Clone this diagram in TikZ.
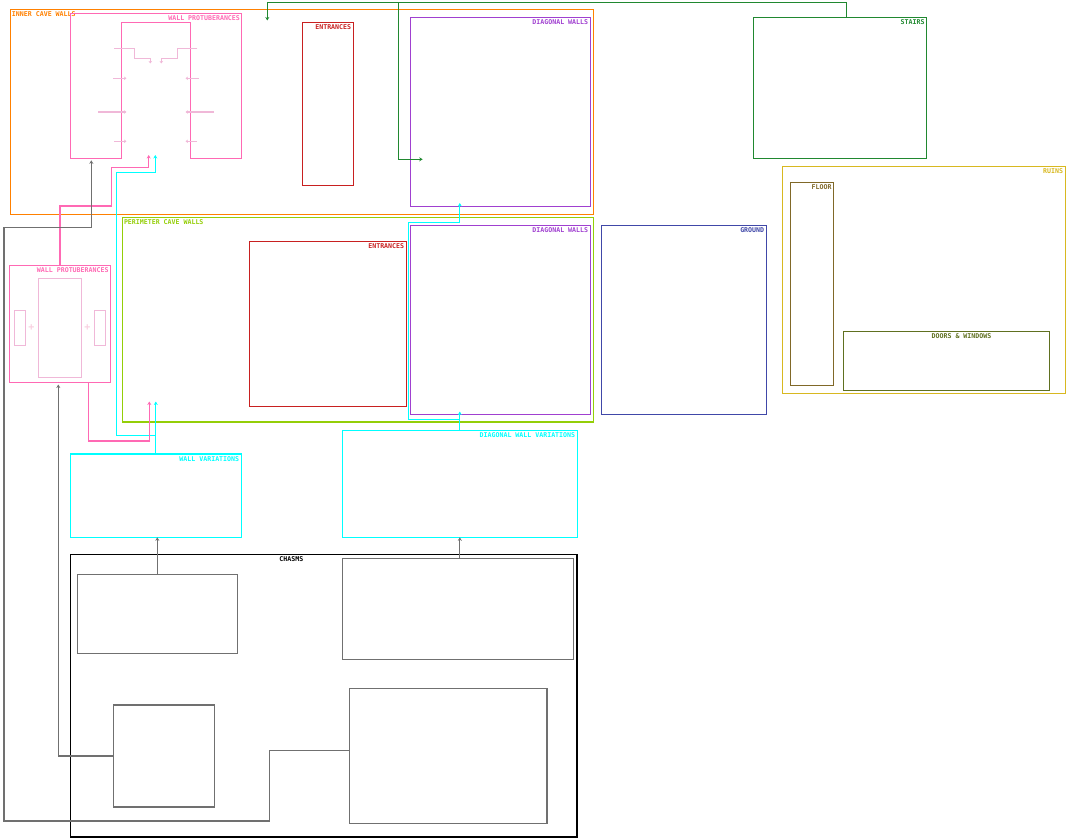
\documentclass[tikz,border=0pt]{standalone}
\usepackage{fontspec}
\setmonofont{DejaVu Sans Mono}
\usepackage{tikz}
\usetikzlibrary{
    arrows.meta,
    positioning,
    calc
}
\usepackage{xcolor}
\definecolor{cavewall}{RGB}{255,128,0}
\definecolor{protpink}{RGB}{255,105,180}
\definecolor{protlight}{RGB}{240,184,216}
\definecolor{protpale}{RGB}{248,208,224}
\definecolor{entrred}{RGB}{200,32,32}
\definecolor{diagpurple}{RGB}{160,64,208}
\definecolor{perimgreen}{RGB}{148,206,8}
\definecolor{varcyan}{RGB}{0,255,255}
\definecolor{stairgreen}{RGB}{32,136,48}
\definecolor{groundblue}{RGB}{64,72,168}
\definecolor{ruinyellow}{RGB}{216,184,32}
\definecolor{floorbrown}{RGB}{128,104,40}
\definecolor{doorolive}{RGB}{96,112,32}
\definecolor{linkgray}{RGB}{112,112,112}
\tikzset{
    % Regions
    region/.style={
        rectangle,
        draw,
        line width=1.3pt,
        inner sep=0pt,
        outer sep=0pt,
        anchor=north west
    },
    chasmregion/.style={
        region,
        draw=black,
        line width=1.6pt
    },
    subregion/.style={
        region,
        draw=linkgray
    },
    % Labels
    tagright/.style={
        anchor=north east,
        inner sep=0pt,
        xshift=-2pt,
        yshift=-2pt
    },
    tagleft/.style={
        anchor=north west,
        inner sep=0pt,
        xshift=1.5pt,
        yshift=-2pt
    },
    tagtop/.style={
        anchor=north,
        inner sep=0pt,
        yshift=-2pt
    },
    % Connectors
    link/.style={
        -{Stealth[length=3.5pt,width=4pt]},
        line width=1.3pt
    },
    graylink/.style={link, draw=linkgray},
    pinklink/.style={link, draw=protpink},
    cyanlink/.style={link, draw=varcyan},
    greenlink/.style={link, draw=stairgreen},
    % Details
    detail/.style={
        draw=protlight,
        line width=1.2pt
    },
    detailarrow/.style={
        detail,
        -{Stealth[length=2.5pt,width=3.5pt]}
    },
    plus/.style={
        inner sep=0pt,
        text=protpale,
        font=\ttfamily\bfseries\fontsize{10}{10}\selectfont
    }
}

\begin{document}
\begin{tikzpicture}[
    x=1pt,
    y=-1pt,
    every node/.style={font=\ttfamily\bfseries\fontsize{6.6}{7}\selectfont}
]
    \useasboundingbox (0,0) rectangle (1072,840);

    % Inner cave walls
    \node[region, draw=cavewall, minimum width=583pt, minimum height=205pt,
        label={[tagleft, text=cavewall]north west:INNER CAVE WALLS}] (innercave) at (10.3,9.3) {};
    \node[region, draw=none, minimum width=171pt, minimum height=145pt,
        label={[tagright, xshift=0.8pt, text=protpink]north east:WALL PROTUBERANCES}] (innerprot) at (70.3,13.3) {};
    \draw[protpink, line width=1.3pt] (innerprot.south west) -- (innerprot.north west)
        -- (innerprot.north east) -- (innerprot.south east) -- (190.3,158.3)
        -- (190.3,22.3) -- (121.3,22.3) -- (121.3,158.3) -- cycle;
    \node[region, draw=entrred, minimum width=51pt, minimum height=163pt,
        label={[tagright, text=entrred]north east:ENTRANCES}] (innerentr) at (302.3,22.3) {};
    \node[region, draw=diagpurple, minimum width=180pt, minimum height=189pt,
        label={[tagright, text=diagpurple]north east:DIAGONAL WALLS}] (innerdiag) at (410.3,17.3) {};

    % Protuberance details
    \draw[detailarrow] (114,48.3) -- (134.3,48.3) -- (134.3,58.3) -- (150.3,58.3) -- (150.3,63.5);
    \draw[detailarrow] (197.3,48.3) -- (177.3,48.3) -- (177.3,58.3) -- (161.3,58.3) -- (161.3,63.5);
    \foreach \y/\l/\r in {78.3/113/198.7, 112/98/214, 141.3/114/197} {
        \draw[detailarrow] (\l,\y) -- (126.5,\y);
        \draw[detailarrow] (\r,\y) -- (185.5,\y);
    }

    % Stairs and ruins
    \node[region, draw=stairgreen, minimum width=173.4pt, minimum height=141pt,
        label={[tagright, text=stairgreen]north east:STAIRS}] (stairs) at (753.3,17.3) {};
    \node[region, draw=ruinyellow, minimum width=283pt, minimum height=227pt,
        label={[tagright, text=ruinyellow]north east:RUINS}] (ruins) at (782.3,166.3) {};
    \node[region, draw=floorbrown, minimum width=43.4pt, minimum height=203pt,
        label={[tagright, text=floorbrown]north east:FLOOR}] (floor) at (790.3,182.3) {};
    \node[region, draw=doorolive, minimum width=206.4pt, minimum height=59pt,
        label={[tagtop, xshift=15pt, text=doorolive]north:DOORS \& WINDOWS}] (doors) at (843.3,331.3) {};
    \node[region, draw=groundblue, minimum width=165pt, minimum height=189pt,
        label={[tagright, text=groundblue]north east:GROUND}] (ground) at (601.3,225.3) {};

    % Perimeter cave walls
    \node[region, draw=perimgreen, minimum width=471pt, minimum height=204.7pt,
        label={[tagleft, text=perimgreen]north west:PERIMETER CAVE WALLS}] (perim) at (122.3,217.3) {};
    \node[region, draw=entrred, minimum width=157pt, minimum height=165pt,
        label={[tagright, text=entrred]north east:ENTRANCES}] (lowentr) at (249.3,241.3) {};
    \node[region, draw=diagpurple, minimum width=180pt, minimum height=189pt,
        label={[tagright, text=diagpurple]north east:DIAGONAL WALLS}] (lowdiag) at (410.3,225.3) {};
    \node[region, draw=protpink, minimum width=101.4pt, minimum height=117pt,
        label={[tagright, text=protpink]north east:WALL PROTUBERANCES}] (lowprot) at (9.3,265.3) {};
    \draw[detail] (38.3,278.3) rectangle (81.7,377.3);
    \draw[detail] (14.3,310.3) rectangle (25.7,345.3);
    \draw[detail] (94.3,310.3) rectangle (105.7,345.3);
    \node[plus] (plusleft) at (31.3,327.7) {+};
    \node[plus] (plusright) at (87.3,327.7) {+};

    % Variations
    \node[region, draw=varcyan, minimum width=171pt, minimum height=83.3pt,
        label={[tagright, text=varcyan]north east:WALL VARIATIONS}] (wallvar) at (70.3,454) {};
    \node[region, draw=varcyan, minimum width=235pt, minimum height=107pt,
        label={[tagright, text=varcyan]north east:DIAGONAL WALL VARIATIONS}] (diagvar) at (342.3,430.3) {};

    % Chasms
    \node[chasmregion, minimum width=506.7pt, minimum height=282.7pt] (chasms) at (70.3,554.3) {};
    \node[anchor=north east, inner sep=0pt, text=black] (chasmstag) at (303.5,556.5) {CHASMS};
    \node[subregion, minimum width=160pt, minimum height=79pt] (chasmA) at (77.3,574.3) {};
    \node[subregion, minimum width=231pt, minimum height=101pt] (chasmB) at (342.3,558.3) {};
    \node[subregion, minimum width=101pt, minimum height=102pt] (chasmC) at (113.2,705) {};
    \node[subregion, minimum width=197.8pt, minimum height=135pt] (chasmD) at (349.2,688.3) {};

    % Arrow targets
    \coordinate (stairtipA) at (267.3,20.5);
    \coordinate (stairtipB) at (422.7,159.3);
    \coordinate (graytipA) at (91.3,160.3);
    \coordinate (graytipB) at (58.3,384.5);
    \coordinate (pinktipA) at (148.7,155);
    \coordinate (cyantipA) at (155.3,155);
    \coordinate (pinktipB) at (149.3,401.5);
    \coordinate (cyantipB) at (155.8,401.5);
    \coordinate (diagtipA) at (459.8,203);
    \coordinate (diagtipB) at (459.8,411.5);

    % Links
    \draw[greenlink] ([xshift=6.3pt]stairs.north) |- (267.3,2.3) -- (stairtipA);
    \draw[greenlink] ([xshift=6.3pt]stairs.north) |- (398.3,2.3) |- (stairtipB);
    \draw[cyanlink] (wallvar.north) -- (cyantipB);
    \draw[cyanlink] (wallvar.north) -- ++(0,-18.7) -| (116.3,172.3) -| (cyantipA);
    \draw[cyanlink] (diagvar.north) -- (diagtipB);
    \draw[cyanlink] (diagvar.north) -- ++(0,-11) -| (408.3,222.3) -| (diagtipA);
    \draw[pinklink] (lowprot.north) |- (111.3,206) |- (148.7,167.3) -- (pinktipA);
    \draw[pinklink] ([xshift=28.3pt]lowprot.south) |- (149.3,441) -- (pinktipB);
    \draw[graylink] (chasmC.west) -| (graytipB);
    \draw[graylink] ([yshift=5pt]chasmD.west) -| (269.2,821) -| (4.1,227.3) -| (graytipA);
    \draw[graylink] (chasmA.north) -- (chasmA.north |- wallvar.south);
    \draw[graylink] (diagvar.south |- chasmB.north) -- (diagvar.south);

\end{tikzpicture}
\end{document}
